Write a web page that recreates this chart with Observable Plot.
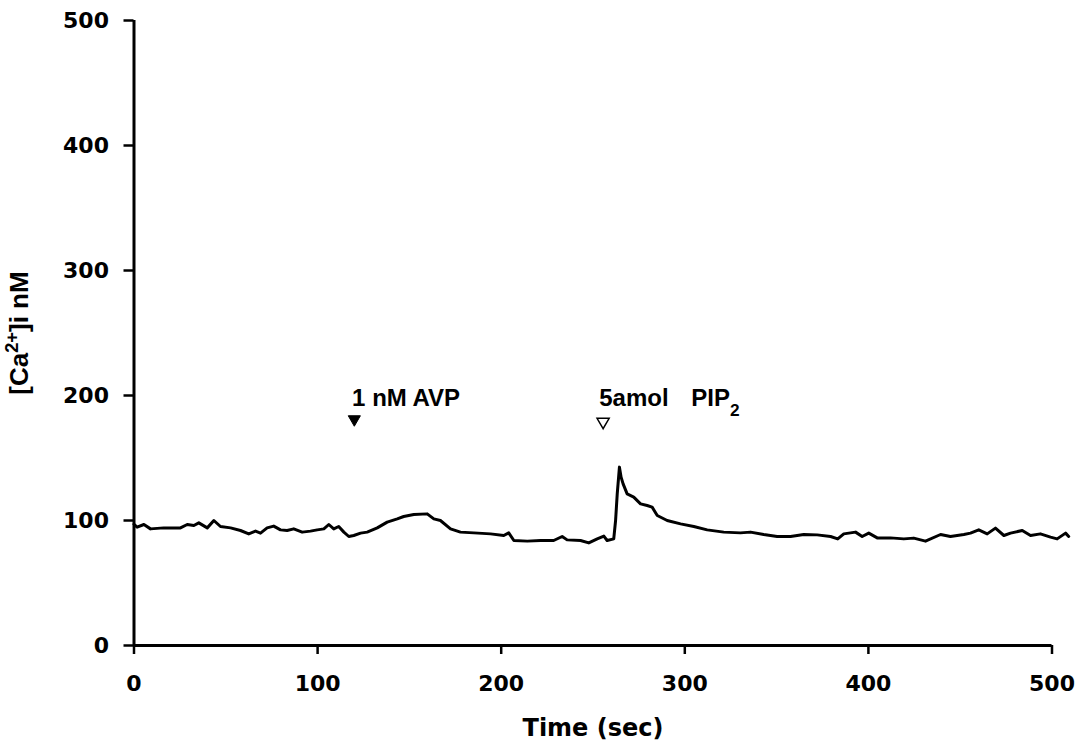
<!DOCTYPE html>
<html><head><meta charset="utf-8">
<script src="https://cdn.jsdelivr.net/npm/d3@7"></script>
<script src="https://cdn.jsdelivr.net/npm/@observablehq/plot@0.6"></script>
<style>
body{margin:0;background:#fff;}
#chart svg g[aria-label="x-axis tick label"] text,
#chart svg g[aria-label="y-axis tick label"] text{font-family:"DejaVu Sans",sans-serif;font-weight:bold;font-size:22px;fill:#000;}
#chart svg g[aria-label="x-axis label"] text{font-family:"DejaVu Sans",sans-serif;font-weight:bold;font-size:24px;fill:#000;}
#chart svg g[aria-label="y-axis label"] text{font-family:"Liberation Sans",Arial,sans-serif;font-weight:bold;font-size:26px;fill:#000;}
</style></head><body><div id="chart"></div>
<script>
const time = [0,1.7,5.4,9.0,16.2,25.3,29.0,32.6,35.3,39.9,43.5,47.1,52.6,58.0,62.5,66.2,68.9,72.5,76.1,79.8,83.4,87.0,91.6,96.1,99.8,103.4,106.1,108.8,111.5,114.3,117.0,119.7,123.4,127.0,132.5,137.9,143.4,146.9,152.4,159.7,163.3,166.9,172.4,177.8,185.1,194.2,201.4,204.1,206.9,214.2,221.4,228.6,233.2,235.9,243.2,247.7,252.3,255.9,257.7,261.3,262.3,263.2,264.4,265.3,266.4,268.6,272.2,275.9,279.5,282.2,285.0,290.4,297.7,304.9,312.2,321.2,330.3,335.8,343.0,350.3,357.6,364.8,372.1,379.4,383.3,386.6,393.0,396.6,400.2,404.8,412.0,419.3,424.7,431.1,439.3,444.7,452.0,455.6,460.1,464.7,469.2,473.8,477.4,483.8,488.3,493.7,499.2,502.8,507.4,509.1];
const calcium = [97,94.7,96.8,93.3,94.1,94.1,96.8,96.0,98.1,94.1,100,95.2,94.1,92,89.3,91.5,89.9,94.1,95.5,92.5,92,93.3,90.7,91.5,92.5,93.3,96.8,93.3,95.2,90.7,87.2,88,89.9,90.7,94.1,98.7,101.3,103.2,104.8,105.3,101.3,100,93.3,90.7,90.1,89.3,88,90.1,84,83.5,84,84,87.2,84.5,84,82.1,85.3,87.5,84,85.3,100,121.3,142.7,134.7,129.3,121.3,118.7,113.3,112,110.7,104,100,97.3,95.2,92.5,90.7,90.1,90.7,88.8,87.2,87.2,88.8,88.5,87.2,85.3,89.3,90.7,87.2,89.9,86.1,86.1,85.3,85.9,83.5,88.8,87.2,88.8,89.9,92.5,89.3,93.9,88,89.9,92,88,89.3,86.7,85.3,89.9,87.2];
const xTicks = [0,100,200,300,400,500];
const yTicks = [0,100,200,300,400,500];
const markerTime = [120, 255.5];
const markerValue = [181, 179];
const markerFilled = [true, false];
const labelTime = [118.8, 253.4, 303.5];
const labelValue = [198, 198, 198];
const labelText = ["1 nM AVP", "5amol", "PIP2"];

const trace = time.map((t, i) => ({t, v: calcium[i]}));
const markers = markerTime.map((t, i) => ({t, v: markerValue[i], filled: markerFilled[i]}));
const labels = labelTime.map((t, i) => ({t, v: labelValue[i], s: labelText[i]}));

const chart = Plot.plot({
  width: 1084, height: 750,
  marginLeft: 133.5, marginRight: 32.5, marginTop: 20, marginBottom: 105,
  x: {domain: [0, 500]},
  y: {domain: [0, 500]},
  style: {background: "white", color: "black"},
  marks: [
    Plot.axisX({ticks: xTicks, tickSize: 9, tickPadding: 21, strokeWidth: 2.5, label: "Time (sec)", labelAnchor: "center", labelOffset: 90, labelArrow: "none"}),
    Plot.axisY({ticks: yTicks, tickSize: 10, tickPadding: 15, strokeWidth: 2.5, label: "[Ca2+]i nM", labelAnchor: "center", labelOffset: 124, labelArrow: "none"}),
    Plot.ruleX([0], {strokeWidth: 3}),
    Plot.ruleY([0], {strokeWidth: 3}),
    Plot.line(trace, {x: "t", y: "v", stroke: "black", strokeWidth: 3, strokeLinejoin: "round"}),
    Plot.dot(markers.filter(d => d.filled), {x: "t", y: "v", symbol: "triangle", rotate: 180, r: 4.5, fill: "black", stroke: "black", strokeWidth: 1}),
    Plot.dot(markers.filter(d => !d.filled), {x: "t", y: "v", symbol: "triangle", rotate: 180, r: 4.5, fill: "white", stroke: "black", strokeWidth: 1.5}),
    Plot.text(labels, {x: "t", y: "v", text: "s", textAnchor: "start", fontFamily: "'Liberation Sans', Arial, sans-serif", fontSize: 24, fontWeight: "bold", fill: "black"})
  ]
});
document.getElementById("chart").appendChild(chart);

// superscript in the y-axis label
const yl = d3.select(chart).select('g[aria-label="y-axis label"] text');
if (!yl.empty()) {
  yl.text(null);
  yl.append("tspan").text("[Ca");
  yl.append("tspan").attr("baseline-shift", "super").attr("font-size", "70%").text("2+");
  yl.append("tspan").text("]i nM");
}
// subscript in PIP2
d3.select(chart).selectAll('g[aria-label="text"] text').each(function() {
  const el = d3.select(this);
  if (el.text() === "PIP2") {
    el.text(null);
    el.append("tspan").text("PIP");
    el.append("tspan").attr("baseline-shift", "sub").attr("font-size", "72%").text("2");
  }
});
</script></body></html>
